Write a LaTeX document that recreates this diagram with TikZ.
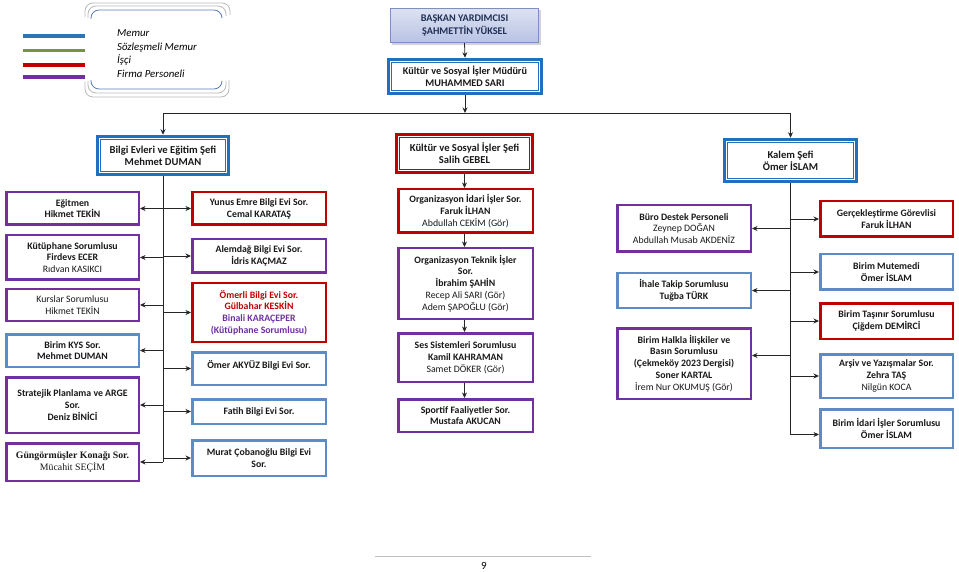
\documentclass[tikz,border=0pt]{standalone}
\usepackage{fontspec}
\setmainfont{Carlito}
\newfontfamily\tnrfont{Liberation Serif}
\usetikzlibrary{arrows.meta,shadows}
\definecolor{cblue}{HTML}{5B8CC6}
\definecolor{cpurple}{HTML}{7030A0}
\definecolor{cred}{HTML}{C00000}
\definecolor{cdblue}{HTML}{2070C0}
\definecolor{lgblue}{HTML}{2E75B6}
\definecolor{lggreen}{HTML}{77933C}
\definecolor{frblue}{HTML}{5A7DB5}
\definecolor{topline}{HTML}{7D8FBF}
\definecolor{toptext}{HTML}{1F2F55}
\definecolor{toptop}{HTML}{DDE3F3}
\definecolor{topbot}{HTML}{B8C2E3}
\newcommand\bxx[7]{\node[#1, minimum width={#5-#3-2.5}, minimum height={#6-#4-2.5}] (#2) at ({(#3+#5)/2},{(#4+#6)/2}) {#7};}
\newcommand\innerframe[2]{\draw[#1, line width=0.8pt] ([shift={(4.5pt,-4.5pt)}]#2.north west) rectangle ([shift={(-4.5pt,4.5pt)}]#2.south east);}
\begin{document}
\begin{tikzpicture}[x=1pt,y=-1pt,
 box/.style={draw, line width=2.5pt, fill=white, align=center, inner sep=1pt, font=\fontsize{9.8}{11.8}\selectfont\bfseries, text=black!90},
 bb/.style={box, draw=cblue}, pb/.style={box, draw=cpurple}, rb/.style={box, draw=cred},
 lv/.style={box, line width=3pt, font=\fontsize{10.6}{11.8}\selectfont\bfseries},
 lvb/.style={lv, draw=cdblue}, lvr/.style={lv, draw=cred},
 topb/.style={draw=topline, line width=0.8pt, top color=toptop, bottom color=topbot, align=center, inner sep=1pt, font=\fontsize{10.2}{12.5}\selectfont\bfseries, text=toptext, drop shadow={shadow xshift=2pt,shadow yshift=-2pt,opacity=0.35}},
 arr/.style={draw=black!85, line width=0.8pt, -{Stealth[length=5.5pt,width=5pt]}},
 ln/.style={draw=black!85, line width=0.8pt},
 leg/.style={font=\fontsize{10.8}{12}\selectfont\itshape, anchor=base west, inner sep=0pt},
 legline/.style={line width=3.5pt},
 fr/.style={line width=0.8pt, draw=gray!55, rounded corners=8pt}
]
\useasboundingbox (0,0) rectangle (959,572);

% legend
\draw[legline, lgblue] (23,36) -- (85,36);
\draw[legline, lggreen] (23,50.5) -- (85,50.5);
\draw[legline, cred] (23,65) -- (85,65);
\draw[legline, cpurple] (23,77) -- (85,77);
\node[leg] (lg1) at (117,37) {Memur};
\node[leg] (lg2) at (117,51) {Sözleşmeli Memur};
\node[leg] (lg3) at (117,64) {İşçi};
\node[leg] (lg4) at (117,77.5) {Firma Personeli};
\draw[fr] (85,17) -- (85,3) -- (230,3) -- (230,15);
\draw[fr] (88,18) -- (88,6) -- (226,6) -- (226,16);
\draw[fr, draw=frblue] (91,19) -- (91,10) -- (222,10) -- (222,17);
\draw[fr] (85,82) -- (85,97) -- (229,97) -- (229,80);
\draw[fr] (88,81) -- (88,93) -- (226,93) -- (226,81);
\draw[fr, draw=frblue] (91,80) -- (91,89) -- (222,89) -- (222,82);

% top
\bxx{topb}{bas}{389}{7}{540}{44}{BAŞKAN YARDIMCISI\\ŞAHMETTİN YÜKSEL}
\bxx{lvb}{mud}{387}{58}{543}{95}{\fontsize{10.2}{12.5}\selectfont Kültür ve Sosyal İşler Müdürü\\\fontsize{10.2}{12.5}\selectfont MUHAMMED SARI}
\innerframe{cdblue}{mud}
\draw[arr] (bas.south) -- (mud.north);

% level 2
\bxx{lvb}{lvL}{96}{135}{230}{176}{Bilgi Evleri ve Eğitim Şefi\\Mehmet DUMAN}
\innerframe{cdblue}{lvL}
\bxx{lvr}{lvM}{395}{133}{534}{174}{Kültür ve Sosyal İşler Şefi\\Salih GEBEL}
\innerframe{cred}{lvM}
\bxx{lvb}{lvR}{723}{138}{858}{183}{Kalem Şefi\\Ömer İSLAM}
\innerframe{cdblue}{lvR}
\coordinate (bus) at (464,113);
\draw[arr] (mud.south) -- (mud.south |- bus);
\draw[ln] (lvL.north |- bus) -- (lvR.north |- bus);
\draw[arr] (lvL.north |- bus) -- (lvL.north);
\draw[arr] (lvR.north |- bus) -- (lvR.north);

% left column
\bxx{pb}{LL1}{5}{191}{140}{226}{Eğitmen\\Hikmet TEKİN}
\bxx{pb}{LL2}{5}{234}{140}{281}{Kütüphane Sorumlusu\\Firdevs ECER\\\mdseries Rıdvan KASIKCI}
\bxx{pb}{LL3}{5}{288}{140}{322}{\mdseries Kurslar Sorumlusu\\\mdseries Hikmet TEKİN}
\bxx{bb}{LL4}{5}{333}{140}{368}{Birim KYS Sor.\\Mehmet DUMAN}
\bxx{pb}{LL5}{5}{376}{140}{434}{Stratejik Planlama ve ARGE\\Sor.\\Deniz BİNİCİ}
\bxx{pb}{LL6}{5}{442}{140}{482}{\tnrfont\bfseries Güngörmüşler Konağı Sor.\\\tnrfont\mdseries Mücahit SEÇİM}
\bxx{rb}{LR1}{191}{191}{327}{226}{Yunus Emre Bilgi Evi Sor.\\Cemal KARATAŞ}
\bxx{pb}{LR2}{191}{238}{327}{274}{Alemdağ Bilgi Evi Sor.\\İdris KAÇMAZ}
\bxx{rb}{LR3}{191}{282}{327}{343}{\textcolor{cred}{Ömerli Bilgi Evi Sor.}\\\textcolor{cred}{Gülbahar KESKİN}\\\textcolor{cpurple}{Binali KARAÇEPER}\\\textcolor{cpurple}{(Kütüphane Sorumlusu)}}
\bxx{bb}{LR4}{191}{351}{327}{386}{Ömer AKYÜZ Bilgi Evi Sor.\\[-4pt]\mbox{}}
\bxx{bb}{LR5}{191}{398}{327}{425}{Fatih Bilgi Evi Sor.}
\bxx{bb}{LR6}{191}{439}{327}{477}{Murat Çobanoğlu Bilgi Evi\\Sor.}
\draw[ln] (lvL.south) -- (lvL.south |- LL6.east);
\foreach \n in {LL1,LL2,LL3,LL4,LL5,LL6} \draw[arr] (lvL.south |- \n.east) -- (\n.east);
\foreach \n in {LR1,LR2,LR3,LR4,LR5,LR6} \draw[arr] (lvL.south |- \n.west) -- (\n.west);

% middle column
\bxx{rb}{M1}{397}{188}{534}{234}{Organizasyon İdari İşler Sor.\\Faruk İLHAN\\\mdseries Abdullah CEKİM (Gör)}
\bxx{pb}{M2}{397}{247}{534}{320}{Organizasyon Teknik İşler\\Sor.\\İbrahim ŞAHİN\\\mdseries Recep Ali SARI (Gör)\\\mdseries Adem ŞAPOĞLU (Gör)}
\bxx{pb}{M3}{397}{332}{534}{383}{Ses Sistemleri Sorumlusu\\Kamil KAHRAMAN\\\mdseries Samet DÖKER (Gör)}
\bxx{pb}{M4}{397}{398}{534}{433}{Sportif Faaliyetler Sor.\\Mustafa AKUCAN}
\draw[arr] (lvM.south) -- (lvM.south |- M1.north);
\draw[arr] (lvM.south |- M1.south) -- (lvM.south |- M2.north);
\draw[arr] (lvM.south |- M2.south) -- (lvM.south |- M3.north);
\draw[arr] (lvM.south |- M3.south) -- (lvM.south |- M4.north);

% right column
\bxx{pb}{R1}{616}{204}{752}{253}{Büro Destek Personeli\\\mdseries Zeynep DOĞAN\\\mdseries Abdullah Musab AKDENİZ}
\bxx{bb}{R2}{616}{272}{752}{309}{İhale Takip Sorumlusu\\Tuğba TÜRK}
\bxx{pb}{R3}{616}{327}{752}{400}{Birim Halkla İlişkiler ve\\Basın Sorumlusu\\(Çekmeköy 2023 Dergisi)\\Soner KARTAL\\\mdseries İrem Nur OKUMUŞ (Gör)}
\bxx{rb}{S1}{819}{200}{954}{238}{Gerçekleştirme Görevlisi\\Faruk İLHAN}
\bxx{bb}{S2}{819}{253}{954}{291}{Birim Mutemedi\\Ömer İSLAM}
\bxx{rb}{S3}{819}{302}{954}{340}{Birim Taşınır Sorumlusu\\Çiğdem DEMİRCİ}
\bxx{bb}{S4}{819}{353}{954}{399}{Arşiv ve Yazışmalar Sor.\\Zehra TAŞ\\\mdseries Nilgün KOCA}
\bxx{bb}{S5}{819}{408}{954}{449}{Birim İdari İşler Sorumlusu\\Ömer İSLAM}
\coordinate (rend) at ([yshift=-6pt]S5.west);
\coordinate (r3end) at ([yshift=8pt]R3.east);
\draw[ln] (lvR.south) -- (lvR.south |- rend);
\draw[arr] (lvR.south |- R1.east) -- (R1.east);
\draw[arr] (lvR.south |- R2.east) -- (R2.east);
\draw[arr] (lvR.south |- r3end) -- (r3end);
\foreach \n in {S1,S2,S3,S4} \draw[arr] (lvR.south |- \n.west) -- (\n.west);
\draw[arr] (lvR.south |- rend) -- (rend);

% footer
\coordinate (fa) at (375,556);
\coordinate (fb) at (591,556);
\draw[gray!50, line width=0.6pt] (fa) -- (fb);
\node[font=\fontsize{11}{12}\selectfont, inner sep=0pt] (pg) at (484,566) {9};
\end{tikzpicture}
\end{document}
